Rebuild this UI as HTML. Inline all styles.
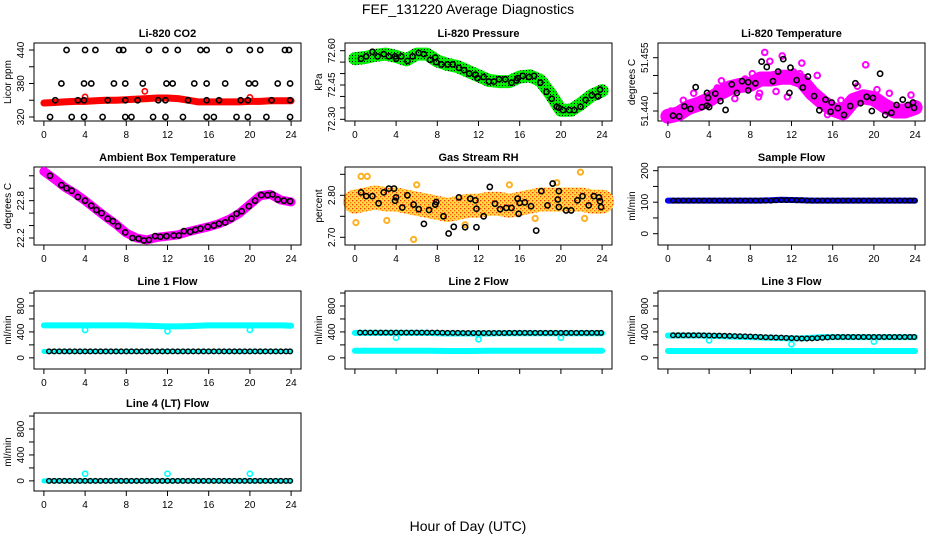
<!DOCTYPE html>
<html><head><meta charset="utf-8"><style>
html,body{margin:0;padding:0;background:#fff;}
svg{display:block;font-family:"Liberation Sans",Arial,sans-serif;}
</style></head><body>
<svg id="chart" width="936" height="540" viewBox="0 0 936 540" xmlns="http://www.w3.org/2000/svg">
<defs>
<pattern id="pGreen" width="3" height="3" patternUnits="userSpaceOnUse"><rect width="3" height="3" fill="#00ee00"/><rect x="1" y="1" width="1" height="1" fill="#000"/></pattern>
<pattern id="pRH" width="4" height="4" patternUnits="userSpaceOnUse"><rect width="4" height="4" fill="#ffd84a"/><rect x="0" y="0" width="1.3" height="1.3" fill="#ff3000"/><rect x="2" y="2" width="1.3" height="1.3" fill="#ff7000"/></pattern>
</defs>
<text x="468" y="14" text-anchor="middle" font-size="14">FEF_131220  Average Diagnostics</text>
<text x="468" y="531" text-anchor="middle" font-size="14">Hour of Day (UTC)</text>
</svg>
<script>
// ---------- data ----------
const HOURS = [0,1,2,3,4,5,6,7,8,9,10,11,12,13,14,15,16,17,18,19,20,21,22,23,24];
const X_TICKS = [0,4,8,12,16,20,24];

const CO2_BAND = [345,346,347,348,348,349,350,350,351,352,353,354,354,353,350,347,347,347,347,347,348,348,349,349,349];
const CO2_BLACK_440_H = [2.2,4,5,7.3,7.7,10.2,11.8,13,15.2,15.8,18,20,21,23.4,23.8];
const CO2_BLACK_380_H = [1.7,3.9,4.6,6.8,7.9,9.6,11.9,12.5,14.6,15.8,17.6,19.9,20.5,22.7,23.9];
const CO2_BLACK_350_H = [1.1,3.3,3.9,6.2,7.9,9.1,11.1,11.8,14,15.8,17,19.1,19.8,22.1,23.9];
const CO2_BLACK_320_H = [0.6,2.7,3.9,5.7,7.9,8.5,10.6,11.8,13.5,15.8,16.5,18.7,19.8,21.6,23.9];
const CO2_RED_OUT_H = [9.8,20,4];
const CO2_RED_OUT_V = [366,355,356];

const PRES_BAND = [72.565,72.57,72.58,72.585,72.575,72.56,72.585,72.585,72.555,72.54,72.53,72.51,72.49,72.47,72.465,72.465,72.485,72.49,72.47,72.41,72.34,72.34,72.37,72.405,72.425];
const PRES_H = [0.6,1.1,1.7,2.2,2.8,3.3,3.9,4,4.5,5.1,5.6,6.2,6.7,7.3,7.8,7.9,8.4,9,9.5,10.1,10.6,11.1,11.7,11.9,12.5,13,13.5,14,14.6,15.2,15.7,15.8,16.3,16.9,17.4,18,18.6,19.1,19.6,19.8,20.2,20.8,21.3,21.9,22.4,23,23.6,23.8];
const PRES_V = [72.565,72.575,72.595,72.575,72.585,72.575,72.575,72.565,72.575,72.555,72.575,72.59,72.585,72.56,72.57,72.55,72.54,72.54,72.54,72.525,72.515,72.50,72.495,72.48,72.485,72.465,72.465,72.475,72.475,72.46,72.47,72.48,72.49,72.485,72.49,72.46,72.42,72.39,72.355,72.35,72.34,72.34,72.34,72.355,72.385,72.405,72.40,72.43];

const TEMP_BAND = [51.4385,51.4392,51.4410,51.4420,51.4432,51.4450,51.4465,51.4472,51.4475,51.4490,51.4490,51.4495,51.4495,51.4485,51.4450,51.4425,51.4405,51.4395,51.4430,51.4440,51.4435,51.4415,51.4400,51.4400,51.4410];
const TEMP_H = [0.5,1.1,1.6,2.2,2.7,3.3,3.8,3.8,3.9,4,4.6,5.1,5.6,6.2,6.7,7.2,7.8,7.8,8.5,9.1,9.6,10.2,10.7,11.2,11.9,11.8,12.5,13.1,13.6,14.2,14.7,15.3,15.8,15.9,16.5,17.1,17.7,18.2,18.7,19.3,19.8,19.9,20.6,21.1,21.7,22.2,22.8,23.3,23.8,23.9];
const TEMP_V = [51.4387,51.4385,51.4413,51.4406,51.4467,51.4411,51.4415,51.4451,51.4437,51.4411,51.4449,51.4428,51.4403,51.4475,51.4451,51.4484,51.4481,51.4458,51.4478,51.4539,51.4524,51.4484,51.4511,51.4546,51.4522,51.4451,51.4487,51.4466,51.4497,51.4442,51.4402,51.4432,51.4398,51.4424,51.4408,51.4389,51.4414,51.4478,51.4422,51.4440,51.4400,51.4437,51.4505,51.4389,51.4395,51.4417,51.4432,51.4417,51.4424,51.4409];
const TEMP_MAG_H = [0.3,1.5,2.5,3.5,4.8,5.2,6.5,7.5,8.2,8.8,9.4,9.9,10.5,11.1,11.6,12.2,13,13.8,14.5,15.5,16.8,18.4,19.2,20.3,20.8,21.5,22.5,23.6,8.9,12.8];
const TEMP_MAG_V = [51.4400,51.4430,51.4450,51.4425,51.4465,51.4485,51.4435,51.4490,51.4505,51.4440,51.4565,51.4540,51.4455,51.4555,51.4440,51.4510,51.4535,51.4470,51.4500,51.4390,51.4430,51.4470,51.4530,51.4460,51.4420,51.4450,51.4405,51.4445,51.4450,51.4505];

const AMB_BAND = [23.27,23.15,23.02,22.92,22.80,22.67,22.54,22.42,22.28,22.20,22.17,22.21,22.23,22.25,22.30,22.34,22.38,22.43,22.50,22.60,22.74,22.88,22.90,22.81,22.78];
const AMB_H = [0.6,1.7,2.2,2.7,3.3,4,4.6,5.1,5.6,6.2,6.7,7.2,7.9,8.6,9.2,9.7,10.2,10.8,11.3,11.9,12.6,13.1,13.6,14.2,14.7,15.2,15.9,16.5,17,17.6,18.2,18.7,19.2,19.9,20.5,21.1,21.7,22.2,22.7,23.3,23.9];
const AMB_V = [23.2,23.05,23.0,22.96,22.86,22.8,22.72,22.65,22.6,22.51,22.47,22.39,22.29,22.2,22.19,22.16,22.17,22.23,22.22,22.23,22.24,22.24,22.31,22.3,22.33,22.35,22.38,22.4,22.43,22.45,22.51,22.59,22.63,22.71,22.8,22.89,22.89,22.9,22.82,22.8,22.79];

const RH_BAND = [2.785,2.79,2.795,2.79,2.79,2.785,2.78,2.775,2.77,2.765,2.77,2.775,2.775,2.78,2.78,2.775,2.78,2.785,2.79,2.79,2.79,2.79,2.79,2.785,2.785];
const RH_H = [0.6,1.1,1.7,2.3,2.8,3.3,3.8,3.9,4,4.6,5.1,5.7,6.2,6.7,7.2,7.8,7.9,8.6,9.1,9.6,10.1,10.7,11.2,11.7,11.8,11.8,12.5,13.1,13.6,14.1,14.7,15.2,15.8,15.9,16,16.5,17.1,17.6,18.1,18.7,19.2,19.7,19.8,19.8,20.5,21,21.6,22.1,22.7,23.2,23.7,23.8,23.9];
const RH_V = [2.807,2.798,2.798,2.781,2.807,2.816,2.816,2.787,2.795,2.771,2.80,2.778,2.767,2.732,2.765,2.778,2.784,2.75,2.709,2.725,2.795,2.724,2.792,2.788,2.724,2.768,2.75,2.82,2.78,2.767,2.77,2.77,2.792,2.756,2.782,2.783,2.774,2.716,2.81,2.776,2.828,2.79,2.81,2.772,2.764,2.764,2.788,2.798,2.776,2.798,2.795,2.786,2.772];
const RH_OUT_H = [0.1,0.6,1.2,5.7,21.9,19.6,10.7,3.1,6,15,17.5,22.3];
const RH_OUT_V = [2.735,2.845,2.845,2.695,2.855,2.83,2.73,2.74,2.825,2.825,2.745,2.745];

const DOT_H = [0.5,1,1.5,2,2.5,3,3.5,4,4.5,5,5.5,6,6.5,7,7.5,8,8.5,9,9.5,10,10.5,11,11.5,12,12.5,13,13.5,14,14.5,15,15.5,16,16.5,17,17.5,18,18.5,19,19.5,20,20.5,21,21.5,22,22.5,23,23.5,23.9];
const SAMPLE_BAND = [105,105,105,105,105,105,105,105,105,105,106,108,107,106,105,105,105,105,105,105,105,105,105,105,105];
const SAMPLE_DOTS = [105,105,105,105,105,105,105,105,105,105,105,105,105,105,105,105,105,105,105,105,106,107,107,107,106,106,105,105,105,105,105,105,105,105,105,105,105,105,105,105,105,105,105,105,105,105,105,105];

const L1_UPPER = [500,500,500,500,500,500,500,500,500,498,495,490,485,485,490,495,500,500,500,500,500,500,500,500,495];
const L1_LOWER = [100,100,100,100,100,100,100,100,100,100,100,100,100,100,100,100,100,100,100,100,100,100,100,100,100];
const L1_DOTS = [100,100,100,100,100,100,100,100,100,100,100,100,100,100,100,100,100,100,100,100,100,100,100,100,100,100,100,100,100,100,100,100,100,100,100,100,100,100,100,100,100,100,100,100,100,100,100,100];
const L1_OUT_H = [4,12,20]; const L1_OUT_V = [430,410,430];

const L2_UPPER = [385,385,385,385,385,385,385,385,380,375,375,375,375,375,380,380,380,380,380,380,380,380,380,380,380];
const L2_LOWER = [110,110,110,110,110,110,110,110,108,105,105,105,108,110,110,110,110,110,110,110,110,110,110,110,110];
const L2_DOTS = [390,390,390,390,390,390,390,390,390,390,390,390,390,390,390,390,388,386,385,385,384,384,383,383,383,383,383,384,384,385,385,386,386,386,386,386,386,386,386,386,386,386,386,386,386,386,386,386];
const L2_OUT_H = [4,12,20]; const L2_OUT_V = [310,285,310];

const L3_UPPER = [345,345,345,345,340,335,330,325,320,315,310,305,300,300,310,320,320,320,320,320,320,320,320,320,320];
const L3_LOWER = [105,105,105,105,105,105,105,105,105,105,105,105,105,105,105,105,105,105,105,105,105,105,105,105,105];
const L3_DOTS = [348,348,348,348,348,348,346,345,343,342,340,338,336,334,332,330,326,322,318,316,314,312,308,304,300,298,298,300,304,310,316,320,322,322,322,322,322,322,322,322,322,322,322,322,322,322,322,322];
const L3_OUT_H = [4,12,20]; const L3_OUT_V = [270,210,250];

const L4_BAND = [0,0,0,0,0,0,0,0,0,0,0,0,0,0,0,0,0,0,0,0,0,0,0,0,0];
const L4_DOTS = [0,0,0,0,0,0,0,0,0,0,0,0,0,0,0,0,0,0,0,0,0,0,0,0,0,0,0,0,0,0,0,0,0,0,0,0,0,0,0,0,0,0,0,0,0,0,0,0];
const L4_OUT_H = [4,12,20]; const L4_OUT_V = [110,110,110];

// ---------- drawing ----------
const NS = "http://www.w3.org/2000/svg";
const svg = document.getElementById('chart');
const COLX = [34,345,658], ROWY = [43,167,291,413], PW = 267, PH = 78;
function mk(tag, attrs, parent){ const e=document.createElementNS(NS,tag); for(const k in attrs) e.setAttribute(k,attrs[k]); (parent||svg).appendChild(e); return e; }

function makePanel(col,row,title,ylab,ylim,ticks,labels,name){
  const x0=COLX[col], y0=ROWY[row];
  const g=mk('g',{});
  
  
  const xs=h=>x0+(h+0.96)/25.92*PW;
  const ys=v=>y0+PH-(v-ylim[0])/(ylim[1]-ylim[0])*PH;
  const t=mk('text',{x:x0+PW/2,y:y0-6,'text-anchor':'middle','font-size':'11','font-weight':'bold'},g);
  t.textContent=title;
  
  
  const box=mk('rect',{x:x0,y:y0,width:PW,height:PH,fill:'none',stroke:'#000','stroke-width':'1'},g);
  
  
  const plot=mk('g',{},g);
  const xa=mk('g',{},g);
  
  
  X_TICKS.forEach(h=>{
    mk('line',{x1:xs(h),x2:xs(h),y1:y0+PH,y2:y0+PH+5,stroke:'#000'},xa);
    const lb=mk('text',{x:xs(h),y:y0+PH+17,'text-anchor':'middle','font-size':'10'},xa);
    lb.textContent = (row===2 && col>0)?'':String(h);
  });
  const ya=mk('g',{},g);
  
  
  ticks.forEach((v,i)=>{
    mk('line',{x1:x0-5,x2:x0,y1:ys(v),y2:ys(v),stroke:'#000'},ya);
    if(labels[i]){
      const lb=mk('text',{transform:`translate(${x0-10},${ys(v)}) rotate(-90)`,'text-anchor':'middle','font-size':'10'},ya);
      lb.textContent=labels[i];
    }
  });
  mk('line',{x1:x0,x2:x0,y1:ys(ticks[0]),y2:ys(ticks[ticks.length-1]),stroke:'#000'},ya);
  const yt=mk('text',{transform:`translate(${x0-23},${y0+PH/2}) rotate(-90)`,'text-anchor':'middle','font-size':'10'},g);
  yt.textContent=ylab;
  
  
  return {plot,xs,ys};
}
function band(p,hours,vals,color,width,name){
  const pts=hours.map((h,i)=>p.xs(h).toFixed(1)+','+p.ys(vals[i]).toFixed(1)).join(' ');
  const l=mk('polyline',{points:pts,fill:'none',stroke:color,'stroke-width':width,'stroke-linejoin':'round','stroke-linecap':'round'},p.plot);
  
  
}
function dots(p,hours,vals,color,name,r,sw){
  hours.forEach((h,i)=>{
    const c=mk('circle',{cx:p.xs(h),cy:p.ys(vals[i]),r:r||2.6,fill:'none',stroke:color,'stroke-width':sw||1.6},p.plot);
    
    
  });
}
function constArr(hours,v){ return hours.map(()=>v); }

let p=makePanel(0,0,'Li-820 CO2','Licor ppm',[312.8,452.6],[320,350,380,410,440],['320','','380','','440'],'co2');
band(p,HOURS,CO2_BAND,'#ff0000',7,'co2-band');
dots(p,CO2_RED_OUT_H,CO2_RED_OUT_V,'#ff0000','co2-red-point');
dots(p,CO2_BLACK_440_H,constArr(CO2_BLACK_440_H,440),'#000','co2-black-point');
dots(p,CO2_BLACK_380_H,constArr(CO2_BLACK_380_H,380),'#000','co2-black-point');
dots(p,CO2_BLACK_350_H,constArr(CO2_BLACK_350_H,350),'#000','co2-black-point');
dots(p,CO2_BLACK_320_H,constArr(CO2_BLACK_320_H,320),'#000','co2-black-point');

p=makePanel(1,0,'Li-820 Pressure','kPa',[72.2926,72.6336],[72.30,72.35,72.40,72.45,72.50,72.55,72.60],['72.30','','','72.45','','','72.60'],'pressure');
band(p,HOURS,PRES_BAND,'url(#pGreen)',13,'pressure-band');
dots(p,PRES_H,PRES_V,'#000','pressure-black-point');

p=makePanel(2,0,'Li-820 Temperature','degrees C',[51.43719,51.45914],[51.440,51.445,51.450,51.455],['51.440','','','51.455'],'li820-temp');
band(p,HOURS,TEMP_BAND,'#ff00ff',15,'li820-temp-band');
dots(p,TEMP_MAG_H,TEMP_MAG_V,'#ff00ff','li820-temp-magenta-point',2.8,2);
dots(p,TEMP_H,TEMP_V,'#000','li820-temp-black-point');

p=makePanel(0,1,'Ambient Box Temperature','degrees C',[22.0875,23.341],[22.2,22.4,22.6,22.8,23.0,23.2],['22.2','','','22.8','',''],'ambient');
band(p,HOURS,AMB_BAND,'#ff00ff',9,'ambient-band');
dots(p,AMB_H,AMB_V,'#000','ambient-black-point');

p=makePanel(1,1,'Gas Stream RH','percent',[2.6817,2.8674],[2.70,2.75,2.80,2.85],['2.70','','2.80',''],'rh');
band(p,HOURS,RH_BAND,'url(#pRH)',24,'rh-band');
dots(p,RH_OUT_H,RH_OUT_V,'#ffb020','rh-outlier-point',2.6,2);
dots(p,RH_H,RH_V,'#000','rh-black-point');

p=makePanel(2,1,'Sample Flow','ml/min',[-35.9,211.7],[0,50,100,150,200],['0','','100','','200'],'sample-flow');
band(p,HOURS,SAMPLE_BAND,'#0000ff',6,'sample-flow-band');
dots(p,DOT_H,SAMPLE_DOTS,'#000','sample-flow-black-point',2.3,1.4);

const FT=[0,200,400,600,800,1000], FL=['0','','400','','800',''];
p=makePanel(0,2,'Line 1 Flow','ml/min',[-171.9,1031],FT,FL,'line1-flow');
band(p,HOURS,L1_UPPER,'#00ffff',6,'line1-upper-band');
band(p,HOURS,L1_LOWER,'#00ffff',5,'line1-lower-band');
dots(p,L1_OUT_H,L1_OUT_V,'#00ffff','line1-outlier-point');
dots(p,DOT_H,L1_DOTS,'#000','line1-black-point',2.3,1.4);

p=makePanel(1,2,'Line 2 Flow','ml/min',[-171.9,1031],FT,FL,'line2-flow');
band(p,HOURS,L2_UPPER,'#00ffff',6,'line2-upper-band');
band(p,HOURS,L2_LOWER,'#00ffff',6,'line2-lower-band');
dots(p,L2_OUT_H,L2_OUT_V,'#00ffff','line2-outlier-point');
dots(p,DOT_H,L2_DOTS,'#000','line2-black-point',2.3,1.4);

p=makePanel(2,2,'Line 3 Flow','ml/min',[-171.9,1031],FT,FL,'line3-flow');
band(p,HOURS,L3_UPPER,'#00ffff',6,'line3-upper-band');
band(p,HOURS,L3_LOWER,'#00ffff',6,'line3-lower-band');
dots(p,L3_OUT_H,L3_OUT_V,'#00ffff','line3-outlier-point');
dots(p,DOT_H,L3_DOTS,'#000','line3-black-point',2.3,1.4);

p=makePanel(0,3,'Line 4 (LT) Flow','ml/min',[-156,1047],FT,FL,'line4-flow');
band(p,HOURS,L4_BAND,'#00ffff',5,'line4-band');
dots(p,L4_OUT_H,L4_OUT_V,'#00ffff','line4-outlier-point');
dots(p,DOT_H,L4_DOTS,'#000','line4-black-point',2.3,1.4);
</script>
</body></html>
